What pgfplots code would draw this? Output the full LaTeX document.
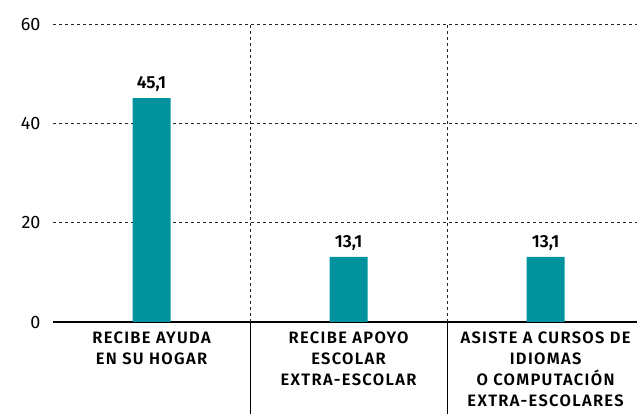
\documentclass[border=0pt]{standalone}
\usepackage{fontspec}
\setmainfont{Fira Sans}
\newfontfamily\semib{Fira Sans SemiBold}
\newfontfamily\semibsp{Fira Sans SemiBold}[LetterSpace=8]
\usepackage{pgfplots}
\pgfplotsset{compat=1.18}
\definecolor{barteal}{RGB}{0,147,158}
\begin{document}
\begin{tikzpicture}[x=1pt,y=1pt]
\begin{axis}[
  at={(53pt,92pt)}, anchor=south west,
  scale only axis, width=584pt, height=298pt,
  xmin=-0.5, xmax=2.464, ymin=0, ymax=60,
  axis lines*=left,
  y axis line style={draw=none},
  x axis line style={black, line width=1.3pt, -},
  ytick={0,20,40,60},
  ymajorgrids,
  grid style={black!85, line width=0.8pt, dash pattern=on 3pt off 3pt},
  major tick length=0pt,
  /pgf/number format/assume math mode=true,
  yticklabel style={font=\fontsize{18}{20}\selectfont, xshift=-9pt},
  xtick={0,1,2},
  xticklabels={{RECIBE AYUDA\\EN SU HOGAR},{RECIBE APOYO\\ESCOLAR\\EXTRA-ESCOLAR},{ASISTE A CURSOS DE\\IDIOMAS\\O COMPUTACIÓN\\EXTRA-ESCOLARES}},
  xticklabel style={align=center, font=\fontsize{16.5}{21}\selectfont\semibsp, anchor=north, yshift=-6pt},
  extra x ticks={0.5,1.5},
  extra x tick labels={},
  extra x tick style={grid=major, major tick length=100pt, tick align=outside, tick style={black, line width=0.8pt}},
  ybar, bar width=38pt,
  nodes near coords={\pgfmathprintnumber[use comma,fixed,fixed zerofill,precision=1]{\pgfplotspointmeta}},
  every node near coord/.append style={font=\fontsize{17.5}{20}\selectfont\semib, yshift=3pt},
  clip=false,
]
\addplot[fill=barteal, draw=none] coordinates {(0,45.1) (1,13.1) (2,13.1)};
\end{axis}
\pgfresetboundingbox
\path[use as bounding box] (0,0) rectangle (637,414);
\end{tikzpicture}
\end{document}
